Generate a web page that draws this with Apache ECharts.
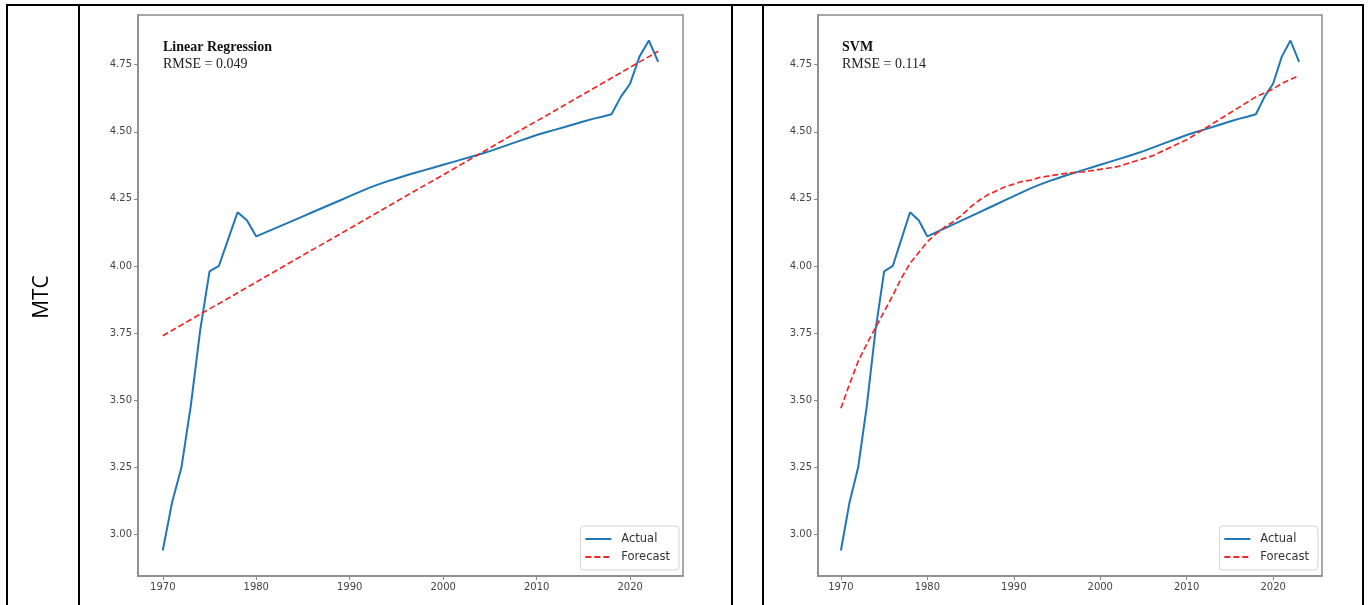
<!DOCTYPE html>
<html>
<head>
<meta charset="utf-8">
<script src="https://cdn.jsdelivr.net/npm/echarts@6/dist/echarts.min.js"></script>
<style>
html,body{margin:0;padding:0;background:#fff;}
#c{width:1369px;height:605px;}
</style>
</head>
<body>
<div id="c"></div>
<script>
const years = [1970,1971,1972,1973,1974,1975,1976,1977,1978,1979,1980,1981,1982,1983,1984,1985,1986,1987,1988,1989,1990,1991,1992,1993,1994,1995,1996,1997,1998,1999,2000,2001,2002,2003,2004,2005,2006,2007,2008,2009,2010,2011,2012,2013,2014,2015,2016,2017,2018,2019,2020,2021,2022,2023];
const actual = [2.94,3.12,3.25,3.48,3.76,3.98,4.00,4.10,4.20,4.17,4.11,4.125,4.14,4.155,4.17,4.185,4.20,4.215,4.23,4.245,4.26,4.275,4.29,4.303,4.315,4.326,4.337,4.347,4.357,4.367,4.377,4.387,4.397,4.407,4.417,4.428,4.44,4.452,4.464,4.476,4.488,4.498,4.508,4.518,4.528,4.538,4.548,4.556,4.565,4.63,4.68,4.78,4.84,4.76];
const lrYears = [1970, 2023];
const lrForecast = [3.74, 4.80];
const svmForecast = [3.47,3.56,3.645,3.71,3.77,3.83,3.89,3.955,4.01,4.05,4.09,4.12,4.145,4.165,4.19,4.22,4.245,4.265,4.28,4.295,4.305,4.315,4.32,4.33,4.335,4.34,4.345,4.348,4.35,4.355,4.36,4.365,4.37,4.38,4.39,4.40,4.41,4.425,4.44,4.455,4.47,4.49,4.51,4.53,4.55,4.57,4.59,4.61,4.63,4.645,4.66,4.68,4.695,4.71];
const xTicks = [1970,1980,1990,2000,2010,2020];
const yTicks = [3.00,3.25,3.50,3.75,4.00,4.25,4.50,4.75];
const panelTitles = ['Linear Regression','SVM'];
const panelRmse = ['RMSE = 0.049','RMSE = 0.114'];
const rowLabel = 'MTC';

const chart = echarts.init(document.getElementById('c'), null, {renderer:'canvas'});
const axisColor = '#8a8a8a';
const labelStyle = {color:'#444', fontFamily:'DejaVu Sans', fontSize:10};

function xAxis(i){
  return {
    type:'value', gridIndex:i, min:1967.35, max:2025.65,
    axisLine:{show:true, onZero:false, lineStyle:{color:axisColor, width:1.5}},
    axisTick:{show:true, length:4, customValues:xTicks, lineStyle:{color:axisColor}},
    axisLabel:Object.assign({customValues:xTicks, margin:6, formatter:v=>String(Math.round(v))}, labelStyle),
    splitLine:{show:false}
  };
}
function yAxis(i){
  return {
    type:'value', gridIndex:i, min:2.845, max:4.935,
    axisLine:{show:true, onZero:false, lineStyle:{color:axisColor, width:1.5}},
    axisTick:{show:true, length:4, customValues:yTicks, lineStyle:{color:axisColor}},
    axisLabel:Object.assign({customValues:yTicks, margin:6, formatter:v=>v.toFixed(2)}, labelStyle),
    splitLine:{show:false}
  };
}
function legend(right){
  return {
    orient:'vertical', right:right, bottom:35,
    data:['Actual','Forecast'],
    itemWidth:26, itemHeight:11, itemGap:6,
    padding:[7,9,7,4],
    itemStyle:{opacity:0},
    backgroundColor:'rgba(255,255,255,0.85)',
    borderColor:'#d4d4d4', borderWidth:1, borderRadius:3,
    textStyle:{fontFamily:'DejaVu Sans', fontSize:11.5, color:'#333', padding:[0,0,0,5]},
    selectedMode:false
  };
}
function title(i, left){
  return {
    text:panelTitles[i], subtext:panelRmse[i], left:left, top:40, padding:0, itemGap:3,
    textStyle:{fontFamily:'Liberation Serif', fontWeight:'bold', fontSize:14, color:'#111'},
    subtextStyle:{fontFamily:'Liberation Serif', fontSize:14, color:'#222'}
  };
}
const actualStyle = {color:'#1f77b4', width:2};
const fcStyle = {color:'#f02828', width:1.7, type:[6,3]};

const border = {type:'line', silent:true, style:{stroke:'#000', lineWidth:2}};
const vx = [7,79,732,763,1363];
const graphics = [Object.assign({}, border, {shape:{x1:6,y1:5,x2:1364,y2:5}})];
vx.forEach(x=>graphics.push(Object.assign({}, border, {shape:{x1:x,y1:4,x2:x,y2:605}})));
graphics.push({type:'text', x:42, y:297, rotation:Math.PI/2, silent:true,
  style:{text:rowLabel, fontFamily:'Open Sans', fontSize:21, fill:'#000', align:'center', verticalAlign:'middle'}});

chart.setOption({
  animation:false,
  backgroundColor:'#fff',
  title:[title(0,163), title(1,842)],
  legend:[legend(690), legend(51)],
  grid:[
    {left:138, top:15, width:545, height:561, show:true, borderColor:axisColor, borderWidth:1.5},
    {left:818, top:15, width:504, height:561, show:true, borderColor:axisColor, borderWidth:1.5}
  ],
  xAxis:[xAxis(0), xAxis(1)],
  yAxis:[yAxis(0), yAxis(1)],
  series:[
    {name:'Actual', type:'line', xAxisIndex:0, yAxisIndex:0, symbol:'none', lineStyle:actualStyle, itemStyle:{color:'#1f77b4'},
      data:years.map((y,i)=>[y, actual[i]])},
    {name:'Forecast', type:'line', xAxisIndex:0, yAxisIndex:0, symbol:'none', lineStyle:fcStyle, itemStyle:{color:'#f02828'},
      data:lrYears.map((y,i)=>[y, lrForecast[i]])},
    {name:'Actual', type:'line', xAxisIndex:1, yAxisIndex:1, symbol:'none', lineStyle:actualStyle, itemStyle:{color:'#1f77b4'},
      data:years.map((y,i)=>[y, actual[i]])},
    {name:'Forecast', type:'line', xAxisIndex:1, yAxisIndex:1, symbol:'none', lineStyle:fcStyle, itemStyle:{color:'#f02828'},
      data:years.map((y,i)=>[y, svmForecast[i]])}
  ],
  graphic:graphics
});
</script>
</body>
</html>
